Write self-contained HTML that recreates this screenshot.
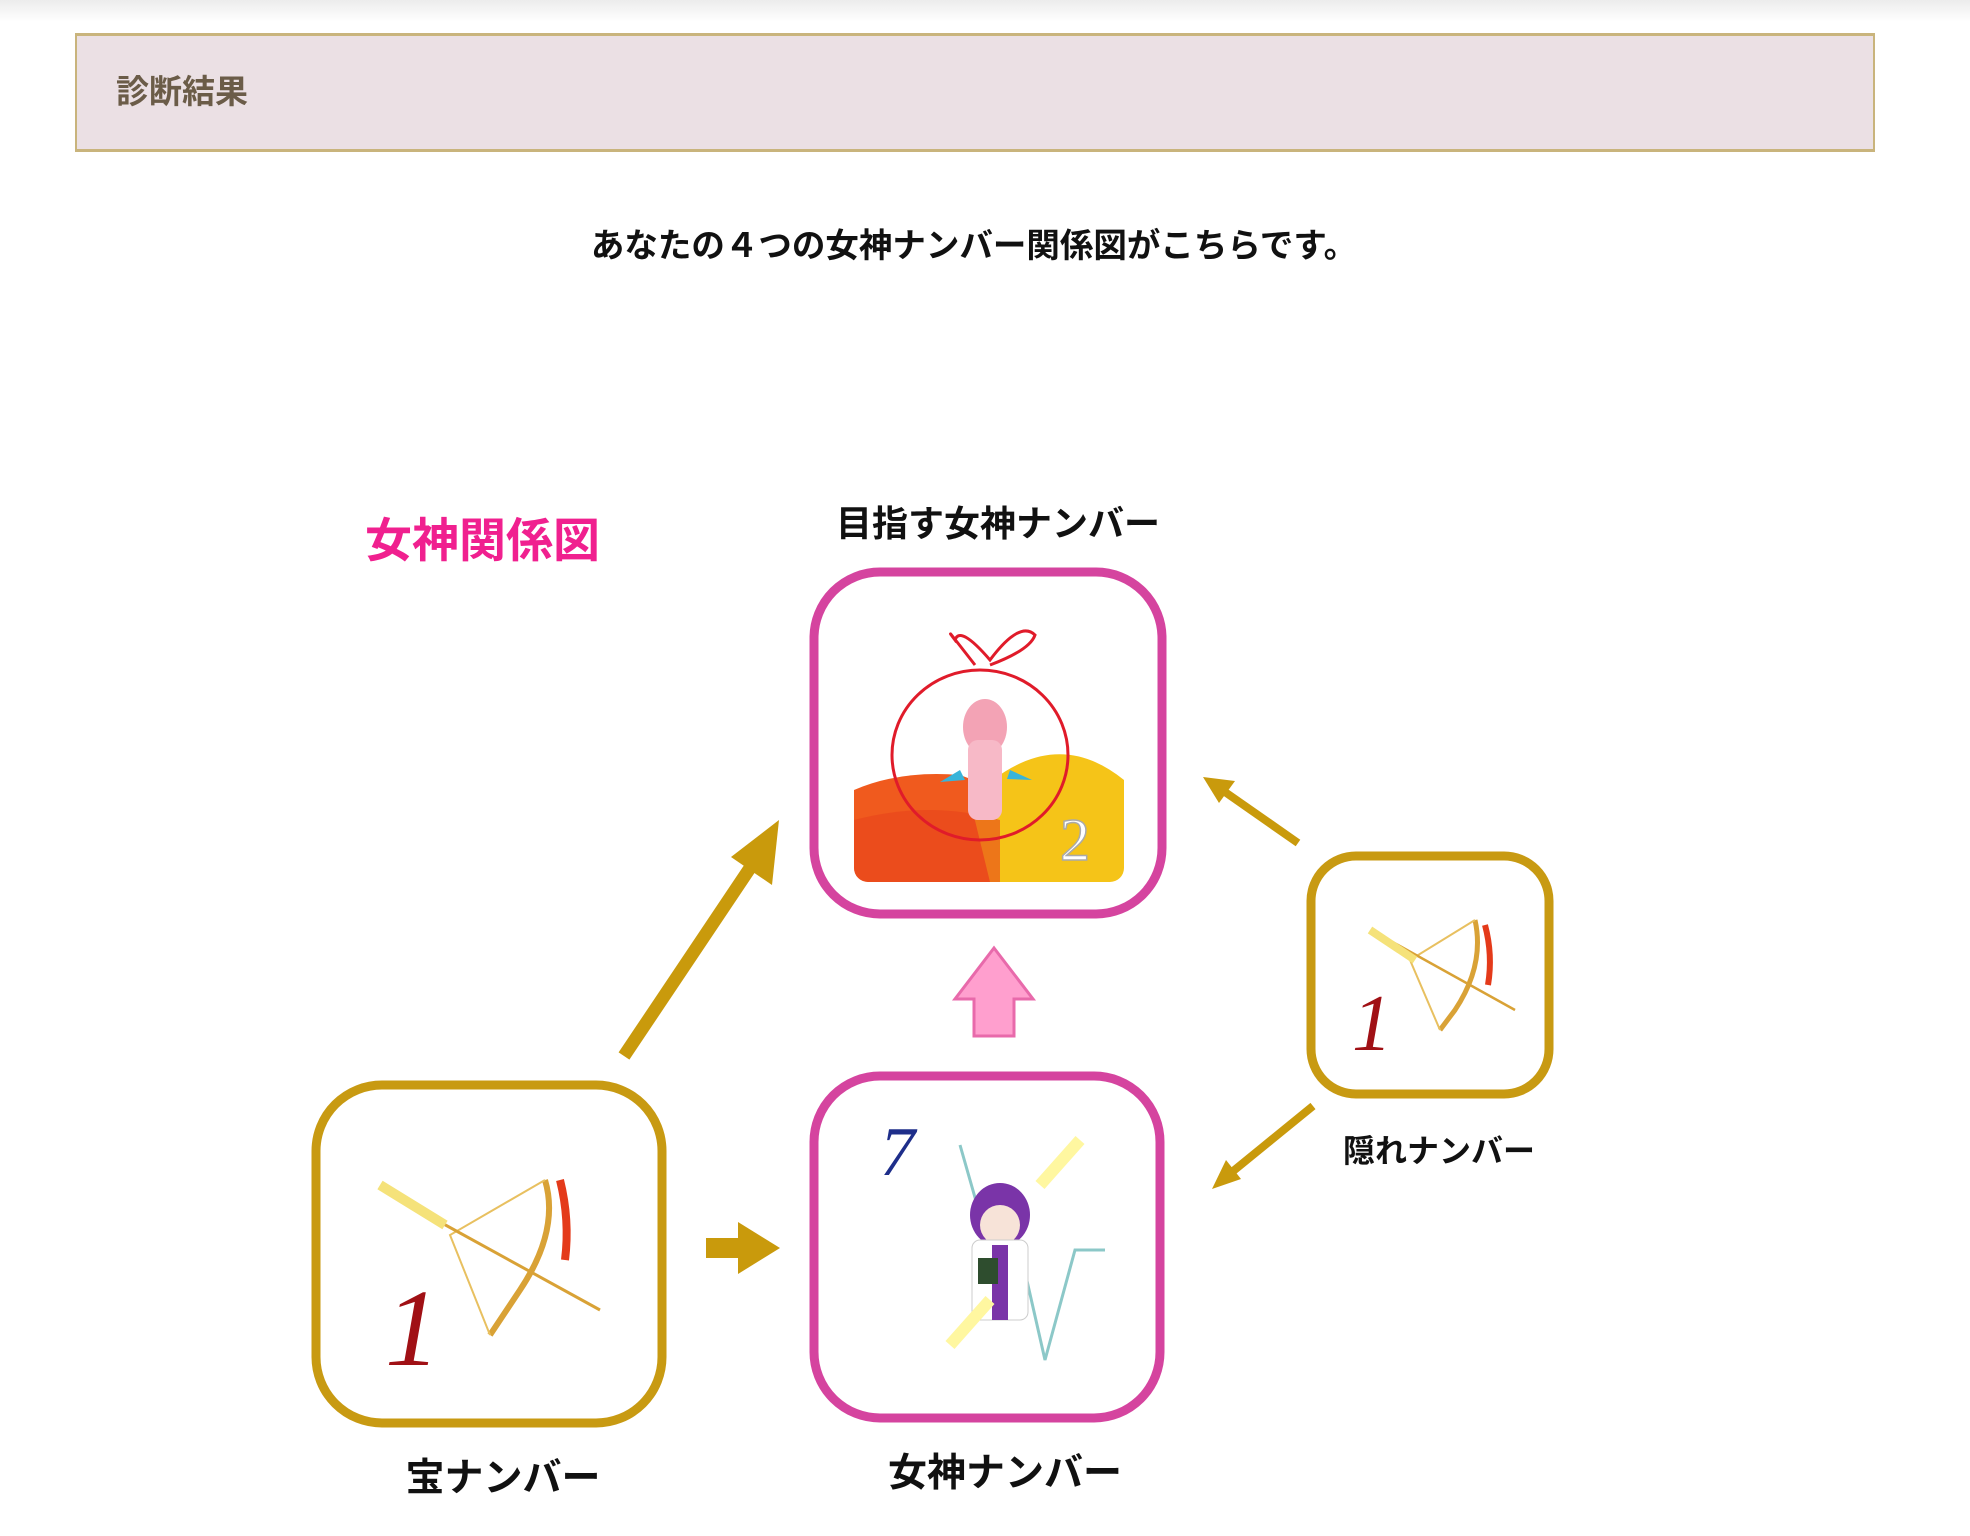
<!DOCTYPE html>
<html><head><meta charset="utf-8"><style>
html,body{margin:0;padding:0;background:#fff;width:1970px;height:1536px;overflow:hidden}
body{position:relative;font-family:"Liberation Sans","Noto Sans CJK JP",sans-serif}
.topbar{position:absolute;left:0;top:0;width:1970px;height:22px;background:linear-gradient(#ececec,#fff)}
.hdr{position:absolute;left:75px;top:33px;width:1796px;height:113px;background:#ebe0e4;border:2px solid #c9b47c;border-top-width:3px;border-bottom-width:3px}
.hdr span{position:absolute;left:39px;top:29px;font-size:33px;font-weight:bold;color:#6b5c48}
svg{position:absolute;left:0;top:0}
</style></head><body>
<div class="topbar"></div>
<div class="hdr"><span>診断結果</span></div>
<svg width="1970" height="1536" viewBox="0 0 1970 1536" font-family="Liberation Sans, Noto Sans CJK JP, sans-serif">
<text x="974" y="257" font-size="33.5" font-weight="bold" text-anchor="middle" fill="#111">あなたの４つの女神ナンバー関係図がこちらです。</text>
<text x="365" y="557" font-size="47" font-weight="bold" fill="#f0208f">女神関係図</text>
<text x="998" y="536" font-size="36" font-weight="bold" text-anchor="middle" fill="#111">目指す女神ナンバー</text>
<text x="503" y="1491" font-size="39" font-weight="bold" text-anchor="middle" fill="#111">宝ナンバー</text>
<text x="1005" y="1486" font-size="39" font-weight="bold" text-anchor="middle" fill="#111">女神ナンバー</text>
<text x="1439" y="1162" font-size="32" font-weight="bold" text-anchor="middle" fill="#111">隠れナンバー</text>

<rect x="814" y="572" width="348" height="342" rx="66" fill="#fff" stroke="#d5449f" stroke-width="9"/>
<rect x="814" y="1076" width="346" height="342" rx="66" fill="#fff" stroke="#d5449f" stroke-width="9"/>
<rect x="316" y="1085" width="346" height="338" rx="66" fill="#fff" stroke="#c89a12" stroke-width="9"/>
<rect x="1311" y="856" width="238" height="238" rx="45" fill="#fff" stroke="#c89a12" stroke-width="9"/>

<clipPath id="c1"><rect x="854" y="616" width="270" height="266" rx="14"/></clipPath>
<g clip-path="url(#c1)">
<path d="M854 790 Q900 770 960 775 L1000 790 L1000 882 L854 882Z" fill="#f05a1e"/>
<path d="M970 800 Q1050 720 1124 780 L1124 882 L990 882Z" fill="#f5c418"/>
<path d="M854 820 Q930 800 1000 820 L1000 882 L854 882Z" fill="#e8421a" opacity=".6"/>
</g>
<ellipse cx="980" cy="755" rx="88" ry="85" fill="none" stroke="#e01b2a" stroke-width="3"/>
<path d="M975 665 Q940 620 955 640 Q960 625 990 660 Q1020 620 1035 635 Q1030 650 990 665" fill="none" stroke="#e01b2a" stroke-width="3"/>
<ellipse cx="985" cy="727" rx="22" ry="28" fill="#f3a3b5"/>
<rect x="968" y="740" width="34" height="80" rx="10" fill="#f7b9c7"/>
<path d="M960 770 l-20 12 l25 -2z M1010 770 l22 10 l-25 -1z" fill="#38b4d9"/>
<text x="1060" y="860" font-size="60" font-family="Liberation Serif,serif" fill="#fff" stroke="#aaa" stroke-width="1.5">2</text>

<text x="880" y="1175" font-size="70" font-style="italic" font-family="Liberation Serif,serif" fill="#1e2e8a">7</text>
<path d="M960 1145 L990 1250 L1020 1250 L1045 1360 L1075 1250 L1105 1250" fill="none" stroke="#8cc8c8" stroke-width="3"/>
<ellipse cx="1000" cy="1215" rx="30" ry="32" fill="#7a34a8"/>
<ellipse cx="1000" cy="1225" rx="20" ry="20" fill="#f7e3d8"/>
<rect x="972" y="1240" width="56" height="80" rx="8" fill="#fff" stroke="#ccc"/>
<rect x="992" y="1245" width="16" height="75" fill="#7a34a8"/>
<rect x="978" y="1258" width="20" height="26" fill="#2e4d2e"/>
<path d="M950 1345 L990 1300" stroke="#fff7a0" stroke-width="12"/>
<path d="M1040 1185 L1080 1140" stroke="#fff7a0" stroke-width="12"/>

<text x="385" y="1365" font-size="110" font-style="italic" font-family="Liberation Serif,serif" fill="#a01015">1</text>
<path d="M545 1180 Q560 1230 520 1290 Q500 1320 490 1335" fill="none" stroke="#d9a236" stroke-width="6"/>
<path d="M545 1180 L450 1235 L490 1335" fill="none" stroke="#e8c060" stroke-width="2"/>
<path d="M400 1200 L600 1310" stroke="#d9a236" stroke-width="3"/>
<path d="M560 1180 q10 40 5 80" stroke="#e43a1a" stroke-width="8" fill="none"/>
<path d="M380 1185 L445 1225" stroke="#f5e27a" stroke-width="10"/>

<text x="1352" y="1050" font-size="80" font-style="italic" font-family="Liberation Serif,serif" fill="#a01015">1</text>
<path d="M1475 920 Q1485 965 1455 1010 L1440 1030" fill="none" stroke="#d9a236" stroke-width="5"/>
<path d="M1475 920 L1410 960 L1440 1030" fill="none" stroke="#e8c060" stroke-width="2"/>
<path d="M1380 935 L1515 1010" stroke="#d9a236" stroke-width="2.5"/>
<path d="M1485 925 q8 30 3 60" stroke="#e43a1a" stroke-width="6" fill="none"/>
<path d="M1370 930 L1415 960" stroke="#f5e27a" stroke-width="8"/>

<g fill="#c99a0c" stroke="#c99a0c">
<line x1="624" y1="1056" x2="750" y2="868" stroke-width="13"/>
<polygon points="779,820 731,857 772,885" stroke="none"/>
<rect x="706" y="1238" width="34" height="20" stroke="none"/>
<polygon points="738,1222 780,1248 738,1274" stroke="none"/>
<line x1="1298" y1="843" x2="1225" y2="792" stroke-width="8"/>
<polygon points="1203,777 1235,781 1219,803" stroke="none"/>
<line x1="1313" y1="1106" x2="1232" y2="1172" stroke-width="8"/>
<polygon points="1212,1189 1226,1160 1241,1179" stroke="none"/>
</g>
<polygon points="994,948 1033,999 1014,999 1014,1036 974,1036 974,999 955,999" fill="#ff9fce" stroke="#e86aab" stroke-width="3"/>
</svg>
</body></html>
